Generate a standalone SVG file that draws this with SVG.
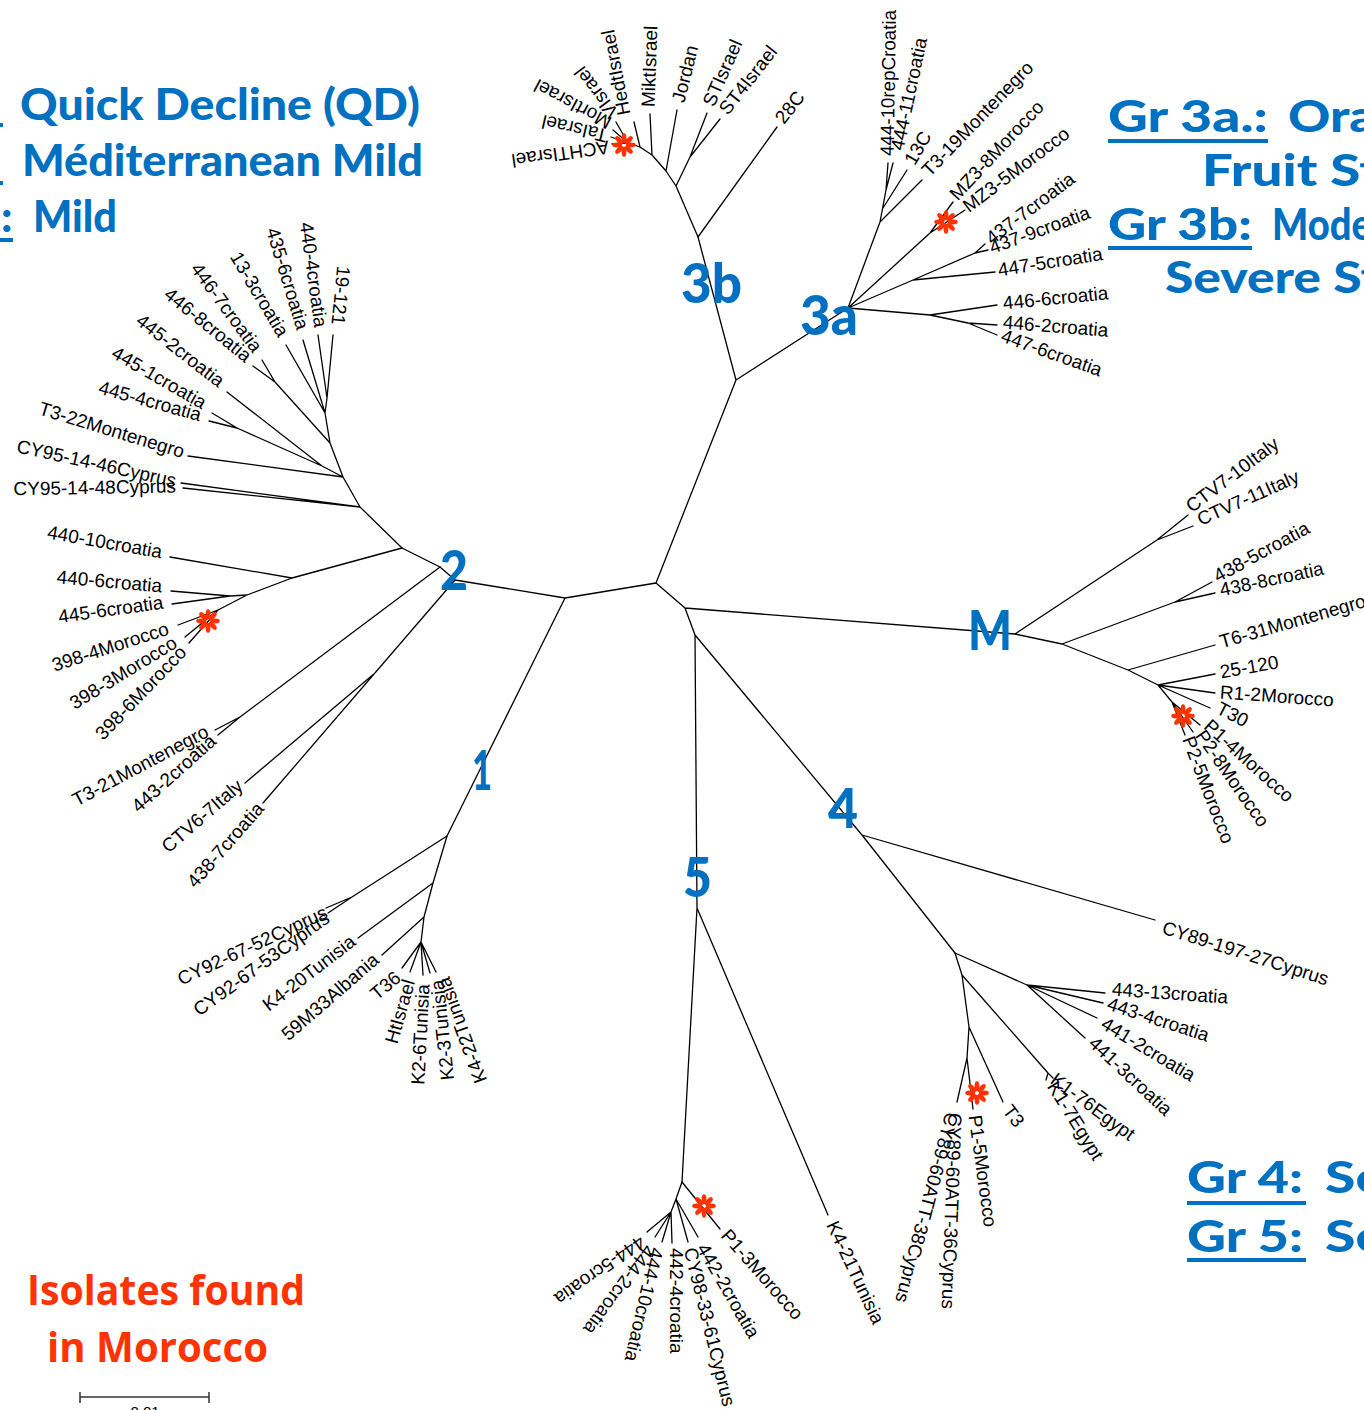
<svg xmlns="http://www.w3.org/2000/svg" width="1364" height="1410" viewBox="0 0 1364 1410">
<defs>
<style>
.br{fill:none;stroke:#000;stroke-width:1.3;stroke-linecap:round;stroke-linejoin:round}
.l{font-family:"Liberation Sans",Arial,sans-serif;font-size:19px;fill:#000;dominant-baseline:central}
.e{text-anchor:end}
.leg{font-family:Lato,"Open Sans",sans-serif;font-weight:900;font-size:44px;fill:#0070C0}
.cl{font-family:Lato,"Open Sans",sans-serif;font-weight:900;font-size:56px;fill:#0070C0}
.red{font-family:"Open Sans",Lato,sans-serif;font-weight:700;font-size:42px;fill:#FF3300}
.ul{fill:#0070C0}
</style>
<g id="star" fill="#FF3300">
<ellipse cx="0" cy="-6.8" rx="2.4" ry="5"/>
<ellipse cx="0" cy="-6.8" rx="2.4" ry="5" transform="rotate(45)"/>
<ellipse cx="0" cy="-6.8" rx="2.4" ry="5" transform="rotate(90)"/>
<ellipse cx="0" cy="-6.8" rx="2.4" ry="5" transform="rotate(135)"/>
<ellipse cx="0" cy="-6.8" rx="2.4" ry="5" transform="rotate(180)"/>
<ellipse cx="0" cy="-6.8" rx="2.4" ry="5" transform="rotate(225)"/>
<ellipse cx="0" cy="-6.8" rx="2.4" ry="5" transform="rotate(270)"/>
<ellipse cx="0" cy="-6.8" rx="2.4" ry="5" transform="rotate(315)"/>
</g>
</defs>
<rect width="1364" height="1410" fill="#fff"/>

<g id="branches" class="br">
<path d="M565,598 L656,583 M656,583 L736,380 M736,380 L698,237 M736,380 L848,308 M656,583 L685,608 L695,635 M685,608 L1015,634 M695,635 L697,908 L682,1182 M697,908 L828,1215 M695,635 L862,835 L955,953 M862,835 L1155,920 M565,598 L447,836 M565,598 L455,580 L440,567 L402,548"/>
<!-- 3b -->
<path d="M698,237 L777,127 M698,237 L676,186 M676,186 L690,157 L707,113 M690,157 L720,119 M676,186 L666,171 L652,155 L640,147 L628,143 M666,171 L677,110 M652,155 L650,114 M640,147 L634,122 M628,143 L612,144 M628,143 L611,137 M628,143 L613,130 M628,143 L616,122"/>
<!-- 3a -->
<path d="M848,308 L880,222 L886,190 L888,163 M886,190 L893,163 M883,208 L907,170 M880,222 L922,180 M848,308 L930,233 L953,202 M930,233 L965,210 M848,308 L913,280 L975,253 L985,244 M975,253 L988,250 M913,280 L995,272 M848,308 L930,315 L997,305 M930,315 L968,323 L997,325 M968,323 L997,335"/>
<!-- 2 upper -->
<path d="M402,548 L360,507 M360,507 L183,488 M360,507 L181,483 M360,507 L343,477 L188,456 M343,477 L330,443 L325,413 L286,345 M325,413 L303,340 M325,413 L327,398 L318,335 M327,398 L333,335 M330,443 L275,382 L262,360 M275,382 L253,366 M343,477 L322,466 L227,392 M322,466 L237,428 L212,413 M237,428 L209,421"/>
<!-- 2 lower -->
<path d="M402,548 L292,578 L170,557 M292,578 L247,595 L230,596 L171,591 M230,596 L172,604 M247,595 L218,610 L178,625 M218,610 L185,637 M218,610 L189,643 M440,567 L240,717 L215,730 M240,717 L218,735 M455,580 L263,803 M375,673 L245,783"/>
<!-- 1 -->
<path d="M447,836 L352,897 L326,908 M352,897 L328,913 M447,836 L433,883 L358,938 M433,883 L424,917 L382,955 M424,917 L421,942 L402,968 M421,942 L410,972 M421,942 L423,975 M421,942 L430,973 M421,942 L436,972"/>
<!-- 4 -->
<path d="M955,953 L1027,985 L1105,993 M1027,985 L1103,1003 M1027,985 L1097,1018 M1027,985 L1085,1038 M955,953 L962,975 L1048,1073 L1053,1078 M1048,1073 L1046,1080 M962,975 L969,1027 L1003,1102 M969,1027 L967,1058 L957,1102 M967,1058 L973,1109"/>
<!-- 5 -->
<path d="M682,1182 L720,1229 M682,1182 L676,1199 L698,1237 M676,1199 L688,1242 M676,1199 L671,1212 L672,1243 M671,1212 L662,1242 M671,1212 L655,1237 M671,1212 L647,1232"/>
<!-- M -->
<path d="M1015,634 L1157,540 L1188,515 M1157,540 L1193,526 M1015,634 L1062,644 L1175,602 L1212,582 M1175,602 L1215,593 M1062,644 L1128,670 L1215,645 M1128,670 L1158,685 L1215,674 M1158,685 L1215,693 M1158,685 L1210,708 M1158,685 L1172,702 L1200,725 M1172,702 L1193,732 M1172,702 L1185,735"/>
</g>

<g id="markers">
<use href="#star" x="624" y="145"/>
<use href="#star" x="946" y="222"/>
<use href="#star" x="208" y="621"/>
<use href="#star" x="1183" y="716"/>
<use href="#star" x="977" y="1093"/>
<use href="#star" x="704" y="1206"/>
</g>

<g id="clade-3b">
<text class="l" transform="translate(779,121) rotate(-52)">28C</text>
<text class="l" transform="translate(723,112) rotate(-52)">ST4Israel</text>
<text class="l" transform="translate(708,105) rotate(-66)">STIsrael</text>
<text class="l" transform="translate(678,102) rotate(-76)">Jordan</text>
<text class="l" transform="translate(648,107) rotate(-88)">MiktIsrael</text>
<text class="l" transform="translate(624,115) rotate(-101)">HedtIsrael</text>
<text class="l" transform="translate(609,147) rotate(172)">ACHTIsrael</text>
<text class="l" transform="translate(607,136) rotate(193)">TaIsrael</text>
<text class="l" transform="translate(610,124) rotate(208)">MortIsrael</text>
<text class="l" transform="translate(614,116) rotate(233)">VIsrael</text>
</g>

<g id="clade-3a">
<text class="l" transform="translate(887,156) rotate(-89)" textLength="146" lengthAdjust="spacingAndGlyphs">444-10repCroatia</text>
<text class="l" transform="translate(897,150) rotate(-78)">444-11croatia</text>
<text class="l" transform="translate(909,163) rotate(-60)">13C</text>
<text class="l" transform="translate(925,173) rotate(-46)">T3-19Montenegro</text>
<text class="l" transform="translate(953,197) rotate(-47)">MZ3-8Morocco</text>
<text class="l" transform="translate(965,208) rotate(-37)">MZ3-5Morocco</text>
<text class="l" transform="translate(988,240) rotate(-37)">437-7croatia</text>
<text class="l" transform="translate(990,248) rotate(-20)">437-9croatia</text>
<text class="l" transform="translate(998,270) rotate(-9)">447-5croatia</text>
<text class="l" transform="translate(1003,303) rotate(-5.5)">446-6croatia</text>
<text class="l" transform="translate(1003,322) rotate(4.5)">446-2croatia</text>
<text class="l" transform="translate(1002,335) rotate(19.6)">447-6croatia</text>
</g>

<g id="clade-2">
<text class="l e" transform="translate(176,486) rotate(-1)">CY95-14-48Cyprus</text>
<text class="l e" transform="translate(176,481) rotate(12.5)">CY95-14-46Cyprus</text>
<text class="l e" transform="translate(184,452) rotate(17)">T3-22Montenegro</text>
<text class="l e" transform="translate(201,415) rotate(15.4)">445-4croatia</text>
<text class="l e" transform="translate(205,404) rotate(30)">445-1croatia</text>
<text class="l e" transform="translate(222,383) rotate(38)">445-2croatia</text>
<text class="l e" transform="translate(249,358) rotate(39)">446-8croatia</text>
<text class="l e" transform="translate(258,350) rotate(53.5)">446-7croatia</text>
<text class="l e" transform="translate(284,335) rotate(59)">13-3croatia</text>
<text class="l e" transform="translate(303,329) rotate(73)">435-6croatia</text>
<text class="l e" transform="translate(321,327) rotate(82)">440-4croatia</text>
<text class="l e" transform="translate(338,325) rotate(95.6)">19-121</text>
<text class="l e" transform="translate(162,552) rotate(10)">440-10croatia</text>
<text class="l e" transform="translate(162,586) rotate(5)">440-6croatia</text>
<text class="l e" transform="translate(163,602) rotate(-8)">445-6croatia</text>
<text class="l e" transform="translate(168,628) rotate(-18)">398-4Morocco</text>
<text class="l e" transform="translate(175,641) rotate(-31.5)">398-3Morocco</text>
<text class="l e" transform="translate(183,649) rotate(-46)">398-6Morocco</text>
<text class="l e" transform="translate(207,730) rotate(-28)">T3-21Montenegro</text>
<text class="l e" transform="translate(213,738) rotate(-42)">443-2croatia</text>
<text class="l e" transform="translate(240,783) rotate(-41)">CTV6-7Italy</text>
<text class="l e" transform="translate(260,805) rotate(-49)">438-7croatia</text>
</g>

<g id="clade-1">
<text class="l e" transform="translate(326,911) rotate(-25)">CY92-67-52Cyprus</text>
<text class="l e" transform="translate(327,916) rotate(-36)">CY92-67-53Cyprus</text>
<text class="l e" transform="translate(353,939) rotate(-37.5)">K4-20Tunisia</text>
<text class="l e" transform="translate(376,957) rotate(-41)">59M33Albania</text>
<text class="l e" transform="translate(398,975) rotate(-40)">T36</text>
<text class="l e" transform="translate(409,980) rotate(-74)">HtIsrael</text>
<text class="l e" transform="translate(423,984) rotate(-87)">K2-6Tunisia</text>
<text class="l e" transform="translate(437,980) rotate(-96)">K2-3Tunisia</text>
<text class="l e" transform="translate(443,978) rotate(-110)">K4-22Tunisia</text>
</g>

<g id="clade-5">
<text class="l" transform="translate(832,1222) rotate(65)">K4-21Tunisia</text>
<text class="l" transform="translate(725,1232) rotate(48.6)">P1-3Morocco</text>
<text class="l" transform="translate(702,1245) rotate(60)">442-2croatia</text>
<text class="l" transform="translate(690,1248) rotate(76)">CY98-33-61Cyprus</text>
<text class="l" transform="translate(676,1248) rotate(90)">442-4croatia</text>
<text class="l" transform="translate(657,1248) rotate(103)">444-10croatia</text>
<text class="l" transform="translate(650,1247) rotate(126)">444-2croatia</text>
<text class="l" transform="translate(643,1240) rotate(145)">444-5croatia</text>
</g>

<g id="clade-4">
<text class="l" transform="translate(1163,927) rotate(17.6)">CY89-197-27Cyprus</text>
<text class="l" transform="translate(1112,989) rotate(4)">443-13croatia</text>
<text class="l" transform="translate(1108,1003) rotate(18)">443-4croatia</text>
<text class="l" transform="translate(1103,1022) rotate(31)">441-2croatia</text>
<text class="l" transform="translate(1092,1040) rotate(43)">441-3croatia</text>
<text class="l" transform="translate(1053,1077) rotate(36.5)">K1-76Egypt</text>
<text class="l" transform="translate(1052,1083) rotate(58)">K1-7Egypt</text>
<text class="l" transform="translate(1007,1107) rotate(53)">T3</text>
<text class="l" transform="translate(975,1115) rotate(82)">P1-5Morocco</text>
<text class="l" transform="translate(955,1113) rotate(92)">CY89-60ATT-36Cyprus</text>
<text class="l" transform="translate(952,1113) rotate(105)">CY89-60ATT-38Cyprus</text>
</g>

<g id="clade-M">
<text class="l" transform="translate(1188,508) rotate(-37)">CTV7-10Italy</text>
<text class="l" transform="translate(1198,520) rotate(-24)">CTV7-11Italy</text>
<text class="l" transform="translate(1215,577) rotate(-28.5)">438-5croatia</text>
<text class="l" transform="translate(1220,590) rotate(-12)">438-8croatia</text>
<text class="l" transform="translate(1220,642) rotate(-16)">T6-31Montenegro</text>
<text class="l" transform="translate(1220,672) rotate(-10)">25-120</text>
<text class="l" transform="translate(1220,692) rotate(4)">R1-2Morocco</text>
<text class="l" transform="translate(1218,707) rotate(27)">T30</text>
<text class="l" transform="translate(1207,723) rotate(42)">P1-4Morocco</text>
<text class="l" transform="translate(1200,732) rotate(55)">P2-8Morocco</text>
<text class="l" transform="translate(1188,737) rotate(69)">P2-5Morocco</text>
</g>

<g id="cluster-labels">
<text class="cl" x="681" y="303" textLength="61" lengthAdjust="spacingAndGlyphs">3b</text>
<text class="cl" x="800" y="335" textLength="58" lengthAdjust="spacingAndGlyphs">3a</text>
<text class="cl" x="440" y="590" textLength="28" lengthAdjust="spacingAndGlyphs">2</text>
<text class="cl" x="472" y="790" textLength="20" lengthAdjust="spacingAndGlyphs">1</text>
<text class="cl" x="683" y="897" textLength="29" lengthAdjust="spacingAndGlyphs">5</text>
<text class="cl" x="828" y="828" textLength="30" lengthAdjust="spacingAndGlyphs">4</text>
<text class="cl" x="968" y="650" textLength="44" lengthAdjust="spacingAndGlyphs">M</text>
</g>

<g id="legend-left">
<rect class="ul" x="0" y="123" width="3" height="4"/>
<rect class="ul" x="0" y="181" width="3" height="4"/>
<rect class="ul" x="0" y="238" width="13" height="4"/>
<text class="leg" x="20" y="120" textLength="400" lengthAdjust="spacingAndGlyphs">Quick Decline (QD)</text>
<text class="leg" x="22" y="176" textLength="401" lengthAdjust="spacingAndGlyphs">Méditerranean Mild</text>
<text class="leg" x="1" y="232">:</text>
<text class="leg" x="33" y="232" textLength="84" lengthAdjust="spacingAndGlyphs">Mild</text>
</g>

<g id="legend-right">
<text class="leg" x="1108" y="132" textLength="160" lengthAdjust="spacingAndGlyphs">Gr 3a.:</text>
<rect class="ul" x="1108" y="139" width="160" height="4"/>
<text class="leg" x="1288" y="132" textLength="88" lengthAdjust="spacingAndGlyphs">Ora</text>
<text class="leg" x="1202" y="186" textLength="178" lengthAdjust="spacingAndGlyphs">Fruit St</text>
<text class="leg" x="1108" y="240" textLength="144" lengthAdjust="spacingAndGlyphs">Gr 3b:</text>
<rect class="ul" x="1108" y="246" width="144" height="4"/>
<text class="leg" x="1272" y="240" textLength="100" lengthAdjust="spacingAndGlyphs">Mode</text>
<text class="leg" x="1165" y="293" textLength="215" lengthAdjust="spacingAndGlyphs">Severe St</text>
<text class="leg" x="1187" y="1193" textLength="116" lengthAdjust="spacingAndGlyphs">Gr 4:</text>
<rect class="ul" x="1187" y="1201" width="119" height="4"/>
<text class="leg" x="1325" y="1193" textLength="60" lengthAdjust="spacingAndGlyphs">Se</text>
<text class="leg" x="1187" y="1252" textLength="116" lengthAdjust="spacingAndGlyphs">Gr 5:</text>
<rect class="ul" x="1187" y="1258" width="119" height="4"/>
<text class="leg" x="1325" y="1252" textLength="60" lengthAdjust="spacingAndGlyphs">Se</text>
</g>

<g id="legend-morocco">
<text class="red" x="27" y="1305" textLength="278" lengthAdjust="spacingAndGlyphs">Isolates found</text>
<text class="red" x="47" y="1362" textLength="221" lengthAdjust="spacingAndGlyphs">in Morocco</text>
</g>

<g id="scale-bar">
<path d="M80,1397 L209,1397 M80,1392 L80,1403 M209,1392 L209,1403" stroke="#333" stroke-width="1.5" fill="none"/>
<text x="145" y="1417" text-anchor="middle" font-family="Liberation Sans, Arial, sans-serif" font-size="15" fill="#000">0.01</text>
</g>
</svg>
